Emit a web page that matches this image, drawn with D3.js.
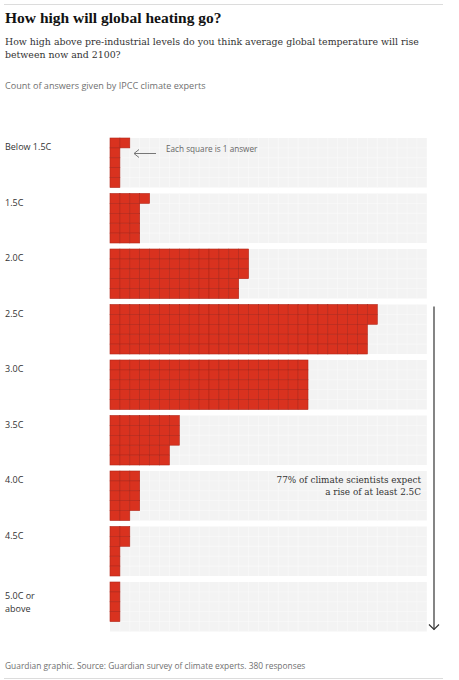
<!DOCTYPE html>
<html>
<head>
<meta charset="utf-8">
<script src="https://cdn.jsdelivr.net/npm/d3@7"></script>
<style>
  html, body { margin: 0; padding: 0; background: #fff; }
  svg { display: block; }
  .sans { font-family: "Open Sans", "Noto Sans", sans-serif; }
  .serif { font-family: "DejaVu Serif", serif; }
  .head { font-family: "Liberation Serif", "DejaVu Serif", serif; }
</style>
</head>
<body>
<div id="chart"></div>
<script>
// chart values
const categories = ["Below 1.5C", "1.5C", "2.0C", "2.5C", "3.0C", "3.5C", "4.0C", "4.5C", "5.0C or above"];
const counts = [6, 16, 68, 132, 100, 33, 14, 7, 4];
const labelLines = [["Below 1.5C"], ["1.5C"], ["2.0C"], ["2.5C"], ["3.0C"], ["3.5C"], ["4.0C"], ["4.5C"], ["5.0C or", "above"]];

const title = "How high will global heating go?";
const subtitle = ["How high above pre-industrial levels do you think average global temperature will rise",
                  "between now and 2100?"];
const unitNote = "Count of answers given by IPCC climate experts";
const keyNote = "Each square is 1 answer";
const callout = ["77% of climate scientists expect", "a rise of at least 2.5C"];
const source = "Guardian graphic. Source: Guardian survey of climate experts. 380 responses";

const width = 459, height = 680;
const rowsPerCol = 5, maxCols = 32;
const cell = 9.9;
const gridLeft = 110;

const svg = d3.select("#chart").append("svg")
    .attr("width", width)
    .attr("height", height);

// header
svg.append("line").attr("x1", 4).attr("x2", 443).attr("y1", 4.5).attr("y2", 4.5)
    .attr("stroke", "#dcdcdc");
svg.append("text").attr("class", "head")
    .attr("x", 5).attr("y", 23)
    .style("font-size", "15.5px").style("font-weight", "bold").attr("fill", "#121212")
    .text(title);
svg.append("g").selectAll("text").data(subtitle).enter().append("text")
    .attr("class", "serif")
    .attr("x", 5).attr("y", (d, i) => 45 + i * 12.5)
    .style("font-size", "9.4px").attr("fill", "#333")
    .text(d => d);
svg.append("text").attr("class", "sans")
    .attr("x", 5).attr("y", 89)
    .style("font-size", "9.1px").attr("fill", "#707070")
    .text(unitNote);

// scales
const y = d3.scaleBand()
    .domain(categories)
    .range([138, 138 + categories.length * 55.5 - 6])
    .paddingInner(6 / 55.5);

const x = d3.scaleLinear()
    .domain([0, maxCols])
    .range([gridLeft, gridLeft + maxCols * cell]);

const r = d3.scaleLinear()
    .domain([0, rowsPerCol])
    .range([0, rowsPerCol * cell]);

// rows
const rows = svg.append("g").selectAll("g")
    .data(categories.map((c, i) => ({cat: c, count: counts[i], lines: labelLines[i]})))
    .enter().append("g")
    .attr("transform", d => "translate(0," + y(d.cat) + ")");

rows.append("rect")
    .attr("x", x(0)).attr("y", 0)
    .attr("width", x(maxCols) - x(0)).attr("height", r(rowsPerCol))
    .attr("fill", "#f3f3f3");

// faint empty grid
rows.each(function() {
    const g = d3.select(this);
    g.selectAll("line.gx").data(d3.range(1, maxCols)).enter().append("line")
        .attr("x1", d => x(d)).attr("x2", d => x(d))
        .attr("y1", 0).attr("y2", r(rowsPerCol))
        .attr("stroke", "#fafafa").attr("stroke-width", 0.6);
    g.selectAll("line.gy").data(d3.range(1, rowsPerCol)).enter().append("line")
        .attr("x1", x(0)).attr("x2", x(maxCols))
        .attr("y1", d => r(d)).attr("y2", d => r(d))
        .attr("stroke", "#fafafa").attr("stroke-width", 0.6);
});

// squares, filled column by column, top to bottom
rows.selectAll("rect.sq")
    .data(d => d3.range(d.count))
    .enter().append("rect")
    .attr("class", "sq")
    .attr("x", k => x(Math.floor(k / rowsPerCol)))
    .attr("y", k => r(k % rowsPerCol))
    .attr("width", cell).attr("height", cell)
    .attr("fill", "#d9321f")
    .attr("stroke", "#b1261a")
    .attr("stroke-width", 0.6);

// labels
rows.each(function(d) {
    const multi = d.lines.length > 1;
    d3.select(this).selectAll("text.lab").data(d.lines).enter().append("text")
        .attr("class", "sans lab")
        .attr("x", 5)
        .attr("y", (t, i) => (multi ? 17 : 12) + i * 12.5)
        .style("font-size", "9px").attr("fill", "#333")
        .text(t => t);
});

// key note
const firstTop = y(categories[0]);
svg.append("line")
    .attr("x1", 156).attr("x2", 134)
    .attr("y1", firstTop + 15.5).attr("y2", firstTop + 15.5)
    .attr("stroke", "#777").attr("stroke-width", 1);
svg.append("path")
    .attr("d", "M139," + (firstTop + 11.5) + " L134," + (firstTop + 15.5) + " L139," + (firstTop + 19.5))
    .attr("fill", "none").attr("stroke", "#777").attr("stroke-width", 1);
svg.append("text").attr("class", "sans")
    .attr("x", 166).attr("y", firstTop + 14)
    .style("font-size", "8.2px").attr("fill", "#666")
    .text(keyNote);

// bracket arrow from 2.5C down
const arrowX = 434;
const aTop = y("2.5C") + 2;
const aBot = y(categories[categories.length - 1]) + r(rowsPerCol) - 2;
svg.append("line")
    .attr("x1", arrowX).attr("x2", arrowX)
    .attr("y1", aTop).attr("y2", aBot)
    .attr("stroke", "#333").attr("stroke-width", 1.2);
svg.append("path")
    .attr("d", "M" + (arrowX - 5) + "," + (aBot - 5) + " L" + arrowX + "," + aBot + " L" + (arrowX + 5) + "," + (aBot - 5))
    .attr("fill", "none").attr("stroke", "#333").attr("stroke-width", 1.2);

svg.append("g").selectAll("text").data(callout).enter().append("text")
    .attr("class", "serif")
    .attr("x", 421).attr("y", (d, i) => y("4.0C") + 12 + i * 12)
    .attr("text-anchor", "end")
    .style("font-size", "8.85px").attr("fill", "#333")
    .text(d => d);

// footer
svg.append("text").attr("class", "sans")
    .attr("x", 5).attr("y", 669)
    .style("font-size", "8.4px").attr("fill", "#707070")
    .text(source);
svg.append("line").attr("x1", 4).attr("x2", 443).attr("y1", 678.5).attr("y2", 678.5)
    .attr("stroke", "#dcdcdc");
</script>
</body>
</html>
